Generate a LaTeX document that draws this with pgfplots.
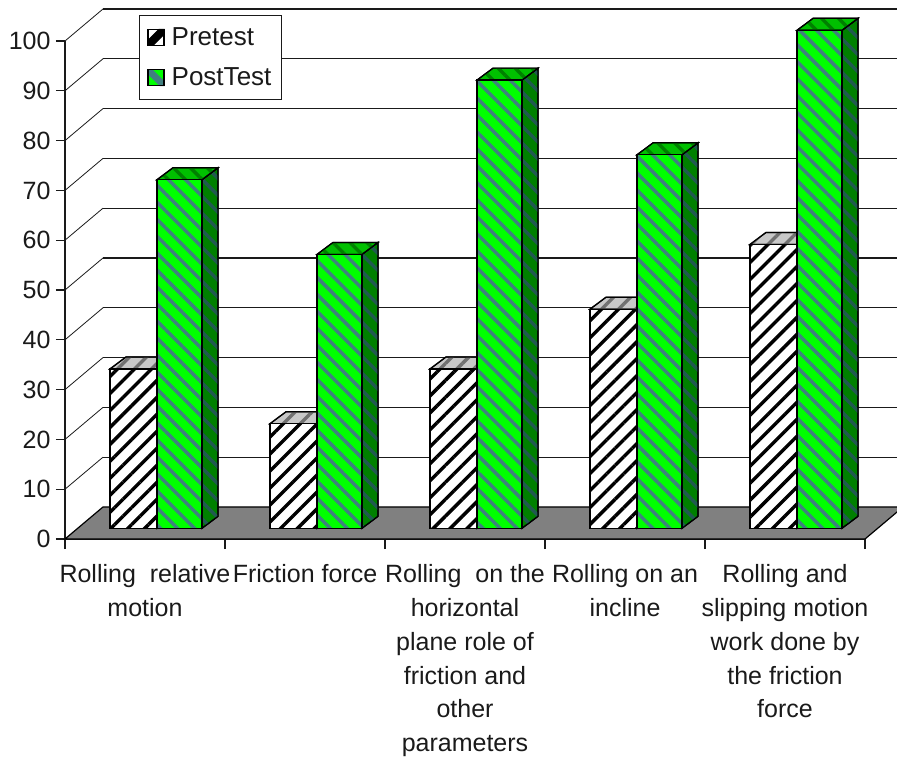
\documentclass[border=0pt]{standalone}
\usepackage{fontspec}
\setmainfont{Liberation Sans}
\usepackage{pgfplots}
\pgfplotsset{compat=1.18}
\usetikzlibrary{patterns.meta}

\definecolor{ink}{HTML}{1A1A1A}
\definecolor{floorgray}{HTML}{808080}
\definecolor{fgreen}{HTML}{00FF00}
\definecolor{tgreen}{HTML}{00C000}
\definecolor{sgreen}{HTML}{008000}
\definecolor{fstripe}{HTML}{408080}
\definecolor{tstripe}{HTML}{008000}
\definecolor{sstripe}{HTML}{205A50}
\definecolor{tgray}{HTML}{C8C8C8}
\definecolor{tgraystripe}{HTML}{707070}

\newcommand{\labelfont}{\fontsize{25}{33.8}\selectfont}
\newcommand{\legendfont}{\fontsize{26}{30}\selectfont}

% front bars start 2.15 units above the floor line, depth of a bar is (0.1, 2.4)
\pgfmathsetmacro{\base}{2.15}
\newcommand{\barg}[6]{% xleft, xright, value, front style, top style, side style
  \pgfmathsetmacro{\yt}{#3+\base}
  \pgfmathsetmacro{\ytb}{\yt+2.4}
  \pgfmathsetmacro{\ybb}{\base+2.4}
  \pgfmathsetmacro{\xrb}{#2+0.1}
  \pgfmathsetmacro{\xlb}{#1+0.1}
  \addplot [forget plot, #6] coordinates {(#2,\base) (\xrb,\ybb) (\xrb,\ytb) (#2,\yt)} --cycle;
  \addplot [forget plot, #5] coordinates {(#1,\yt) (\xlb,\ytb) (\xrb,\ytb) (#2,\yt)} --cycle;
  \addplot [forget plot, #4] coordinates {(#1,\base) (#1,\yt) (#2,\yt) (#2,\base)} --cycle;
}
\newcommand{\wall}[1]{%
  \pgfmathsetmacro{\yb}{#1+6.43}
  \addplot [forget plot, ink, line width=1.2pt] coordinates {(0.2375,\yb) (5.3,\yb)};
  \addplot [forget plot, ink, line width=0.8pt] coordinates {(0,#1) (0.2375,\yb)};
}

\tikzset{
  prefront/.style={draw=black, line width=1.2pt, fill=white,
    postaction={pattern={Lines[angle=45,distance=12pt,line width=3.4pt]}, pattern color=black}},
  pretop/.style={draw=black, line width=1.2pt, fill=tgray,
    postaction={pattern={Lines[angle=45,distance=12pt,line width=3.4pt]}, pattern color=tgraystripe}},
  postfront/.style={draw=black, line width=1.2pt, fill=fgreen,
    postaction={pattern={Lines[angle=-45,distance=12pt,line width=3.4pt]}, pattern color=fstripe}},
  posttop/.style={draw=black, line width=1.2pt, fill=tgreen,
    postaction={pattern={Lines[angle=-45,distance=12pt,line width=3.4pt]}, pattern color=tstripe}},
  postside/.style={draw=black, line width=1.2pt, fill=sgreen,
    postaction={pattern={Lines[angle=-45,distance=12pt,line width=3.4pt]}, pattern color=sstripe}},
}

\begin{document}
\begin{tikzpicture}
\path[use as bounding box] (-65pt,-219pt) rectangle (832pt,539pt);
\begin{axis}[
  scale only axis,
  width=800pt, height=498pt,
  clip=false,
  xmin=0, xmax=5, ymin=0, ymax=100,
  axis lines=left,
  axis line style={-, line width=1.3pt, ink},
  tick align=outside,
  xtick={0.5,1.5,2.5,3.5,4.5},
  xticklabels={
    {Rolling\ \ relative\\motion},
    {Friction force},
    {Rolling\ \ on the\\horizontal\\plane role of\\friction and\\other\\parameters},
    {Rolling on an\\incline},
    {Rolling and\\slipping motion\\work done by\\the friction\\force}},
  minor xtick={0,1,2,3,4,5},
  ytick={0,10,...,100},
  major tick length=9pt,
  minor tick length=10pt,
  x tick style={draw=none},
  minor x tick style={draw=ink, line width=1.3pt},
  y tick style={draw=ink, line width=1.3pt},
  x tick label style={align=center, font=\labelfont, text=ink, anchor=north, yshift=-13pt},
  y tick label style={font=\labelfont, text=ink, xshift=-2pt},
  /pgf/number format/assume math mode=true,
  legend style={at={(axis description cs:0.0925,1.052)}, anchor=north west,
    draw=ink, line width=1pt, fill=white, font=\legendfont, text=ink,
    inner xsep=8pt, inner ysep=10pt, row sep=17pt,
    /tikz/every odd column/.append style={column sep=5pt}},
  legend cell align=left,
  legend entries={Pretest,PostTest},
]
\addlegendimage{legend image code/.code={
  \fill[white] (0pt,-8pt) rectangle (16pt,8pt);
  \fill[black] (0pt,-8pt) -- (5pt,-8pt) -- (16pt,3pt) -- (16pt,8pt) -- (11pt,8pt) -- (0pt,-3pt) -- cycle;
  \draw[black, line width=1.2pt] (0pt,-8pt) rectangle (16pt,8pt);}}
\addlegendimage{legend image code/.code={
  \fill[fgreen] (0pt,-8pt) rectangle (16pt,8pt);
  \fill[fstripe] (0pt,8pt) -- (4pt,8pt) -- (16pt,-4pt) -- (16pt,-8pt) -- (12pt,-8pt) -- (0pt,4pt) -- cycle;
  \draw[black, line width=1.2pt] (0pt,-8pt) rectangle (16pt,8pt);}}

% walls
\wall{10}\wall{20}\wall{30}\wall{40}\wall{50}\wall{60}\wall{70}\wall{80}\wall{90}\wall{100}

% floor
\addplot [forget plot, fill=floorgray, draw=black, line width=1.2pt]
  coordinates {(0,0) (0.2375,6.43) (5.2375,6.43) (5,0)} --cycle;

% bars: category values
\barg{0.28125}{0.575}{32}{prefront}{pretop}{postside}
\barg{0.575}{0.85625}{70}{postfront}{posttop}{postside}
\barg{1.28125}{1.575}{21}{prefront}{pretop}{postside}
\barg{1.575}{1.85625}{55}{postfront}{posttop}{postside}
\barg{2.28125}{2.575}{32}{prefront}{pretop}{postside}
\barg{2.575}{2.85625}{90}{postfront}{posttop}{postside}
\barg{3.28125}{3.575}{44}{prefront}{pretop}{postside}
\barg{3.575}{3.85625}{75}{postfront}{posttop}{postside}
\barg{4.28125}{4.575}{57}{prefront}{pretop}{postside}
\barg{4.575}{4.85625}{100}{postfront}{posttop}{postside}
\end{axis}
\end{tikzpicture}
\end{document}
